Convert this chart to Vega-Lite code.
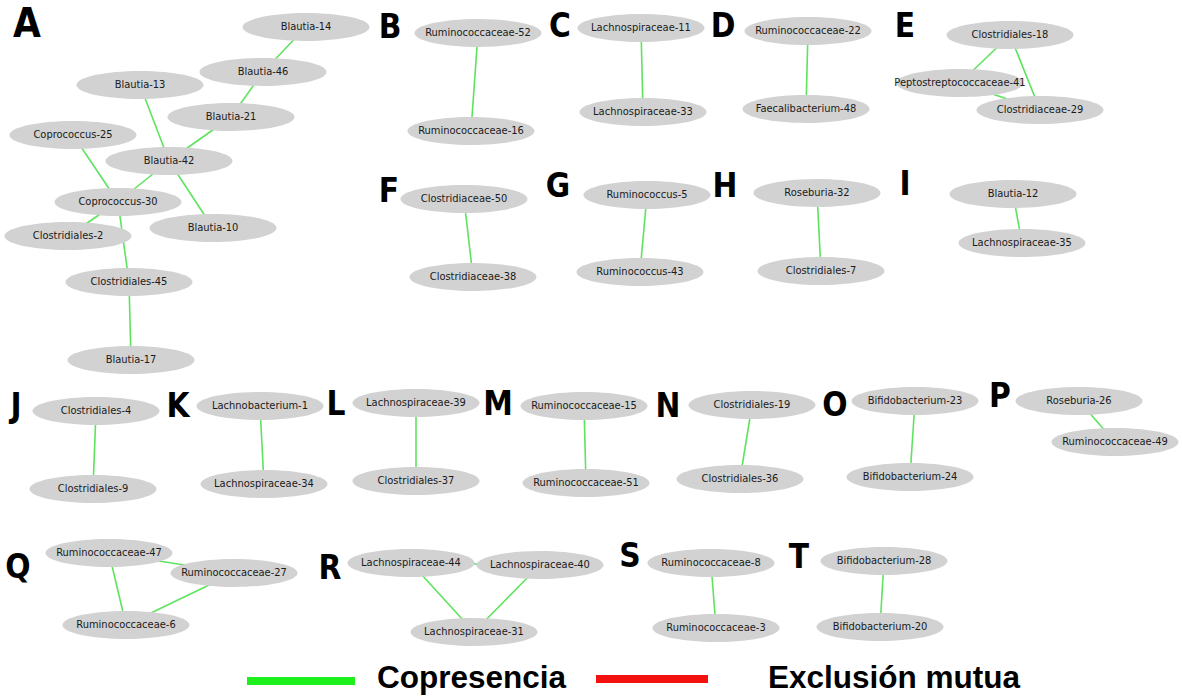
{
  "$schema": "https://vega.github.io/schema/vega-lite/v6.json",
  "width": 1182,
  "height": 696,
  "autosize": {"type": "fit", "contains": "padding"},
  "padding": 0,
  "background": "white",
  "config": {"view": {"stroke": null}},
  "datasets": {
    "nodes": [
      {"name": "Blautia-14", "x": 306, "y": 27},
      {"name": "Blautia-46", "x": 263, "y": 72},
      {"name": "Blautia-13", "x": 140, "y": 85},
      {"name": "Blautia-21", "x": 231, "y": 117},
      {"name": "Coprococcus-25", "x": 73, "y": 135},
      {"name": "Blautia-42", "x": 169, "y": 161},
      {"name": "Coprococcus-30", "x": 118, "y": 202},
      {"name": "Clostridiales-2", "x": 68, "y": 236},
      {"name": "Blautia-10", "x": 213, "y": 228},
      {"name": "Clostridiales-45", "x": 129, "y": 282},
      {"name": "Blautia-17", "x": 131, "y": 360},
      {"name": "Ruminococcaceae-52", "x": 478, "y": 33},
      {"name": "Ruminococcaceae-16", "x": 471, "y": 131},
      {"name": "Lachnospiraceae-11", "x": 641, "y": 28},
      {"name": "Lachnospiraceae-33", "x": 643, "y": 112},
      {"name": "Ruminococcaceae-22", "x": 808, "y": 31},
      {"name": "Faecalibacterium-48", "x": 806, "y": 109},
      {"name": "Clostridiales-18", "x": 1010, "y": 35},
      {"name": "Peptostreptococcaceae-41", "x": 960, "y": 83},
      {"name": "Clostridiaceae-29", "x": 1040, "y": 110},
      {"name": "Clostridiaceae-50", "x": 464, "y": 199},
      {"name": "Clostridiaceae-38", "x": 473, "y": 277},
      {"name": "Ruminococcus-5", "x": 647, "y": 195},
      {"name": "Ruminococcus-43", "x": 640, "y": 272},
      {"name": "Roseburia-32", "x": 817, "y": 193},
      {"name": "Clostridiales-7", "x": 821, "y": 271},
      {"name": "Blautia-12", "x": 1013, "y": 194},
      {"name": "Lachnospiraceae-35", "x": 1022, "y": 243},
      {"name": "Clostridiales-4", "x": 96, "y": 411},
      {"name": "Clostridiales-9", "x": 93, "y": 489},
      {"name": "Lachnobacterium-1", "x": 260, "y": 406},
      {"name": "Lachnospiraceae-34", "x": 264, "y": 484},
      {"name": "Lachnospiraceae-39", "x": 416, "y": 403},
      {"name": "Clostridiales-37", "x": 416, "y": 481},
      {"name": "Ruminococcaceae-15", "x": 584, "y": 406},
      {"name": "Ruminococcaceae-51", "x": 586, "y": 483},
      {"name": "Clostridiales-19", "x": 752, "y": 405},
      {"name": "Clostridiales-36", "x": 740, "y": 479},
      {"name": "Bifidobacterium-23", "x": 915, "y": 401},
      {"name": "Bifidobacterium-24", "x": 910, "y": 477},
      {"name": "Roseburia-26", "x": 1079, "y": 401},
      {"name": "Ruminococcaceae-49", "x": 1115, "y": 442},
      {"name": "Ruminococcaceae-47", "x": 109, "y": 553},
      {"name": "Ruminococcaceae-27", "x": 234, "y": 573},
      {"name": "Ruminococcaceae-6", "x": 126, "y": 625},
      {"name": "Lachnospiraceae-44", "x": 411, "y": 563},
      {"name": "Lachnospiraceae-40", "x": 540, "y": 565},
      {"name": "Lachnospiraceae-31", "x": 474, "y": 632},
      {"name": "Ruminococcaceae-8", "x": 711, "y": 563},
      {"name": "Ruminococcaceae-3", "x": 716, "y": 628},
      {"name": "Bifidobacterium-28", "x": 884, "y": 561},
      {"name": "Bifidobacterium-20", "x": 880, "y": 627}
    ],
    "edges": [
      {"source": "Blautia-14", "target": "Blautia-46"},
      {"source": "Blautia-46", "target": "Blautia-21"},
      {"source": "Blautia-21", "target": "Blautia-42"},
      {"source": "Blautia-13", "target": "Blautia-42"},
      {"source": "Blautia-42", "target": "Coprococcus-30"},
      {"source": "Blautia-42", "target": "Blautia-10"},
      {"source": "Coprococcus-25", "target": "Coprococcus-30"},
      {"source": "Coprococcus-30", "target": "Clostridiales-2"},
      {"source": "Coprococcus-30", "target": "Clostridiales-45"},
      {"source": "Clostridiales-45", "target": "Blautia-17"},
      {"source": "Ruminococcaceae-52", "target": "Ruminococcaceae-16"},
      {"source": "Lachnospiraceae-11", "target": "Lachnospiraceae-33"},
      {"source": "Ruminococcaceae-22", "target": "Faecalibacterium-48"},
      {"source": "Clostridiales-18", "target": "Peptostreptococcaceae-41"},
      {"source": "Clostridiales-18", "target": "Clostridiaceae-29"},
      {"source": "Peptostreptococcaceae-41", "target": "Clostridiaceae-29"},
      {"source": "Clostridiaceae-50", "target": "Clostridiaceae-38"},
      {"source": "Ruminococcus-5", "target": "Ruminococcus-43"},
      {"source": "Roseburia-32", "target": "Clostridiales-7"},
      {"source": "Blautia-12", "target": "Lachnospiraceae-35"},
      {"source": "Clostridiales-4", "target": "Clostridiales-9"},
      {"source": "Lachnobacterium-1", "target": "Lachnospiraceae-34"},
      {"source": "Lachnospiraceae-39", "target": "Clostridiales-37"},
      {"source": "Ruminococcaceae-15", "target": "Ruminococcaceae-51"},
      {"source": "Clostridiales-19", "target": "Clostridiales-36"},
      {"source": "Bifidobacterium-23", "target": "Bifidobacterium-24"},
      {"source": "Roseburia-26", "target": "Ruminococcaceae-49"},
      {"source": "Ruminococcaceae-47", "target": "Ruminococcaceae-27"},
      {"source": "Ruminococcaceae-47", "target": "Ruminococcaceae-6"},
      {"source": "Ruminococcaceae-27", "target": "Ruminococcaceae-6"},
      {"source": "Lachnospiraceae-44", "target": "Lachnospiraceae-40"},
      {"source": "Lachnospiraceae-44", "target": "Lachnospiraceae-31"},
      {"source": "Lachnospiraceae-40", "target": "Lachnospiraceae-31"},
      {"source": "Ruminococcaceae-8", "target": "Ruminococcaceae-3"},
      {"source": "Bifidobacterium-28", "target": "Bifidobacterium-20"}
    ],
    "letters": [
      {"letter": "A", "x": 27, "y": 37, "big": 37},
      {"letter": "B", "x": 390, "y": 38, "big": 29},
      {"letter": "C", "x": 560, "y": 37, "big": 29},
      {"letter": "D", "x": 723, "y": 37, "big": 29},
      {"letter": "E", "x": 905, "y": 37, "big": 29},
      {"letter": "F", "x": 389, "y": 202, "big": 29},
      {"letter": "G", "x": 558, "y": 197, "big": 29},
      {"letter": "H", "x": 725, "y": 197, "big": 29},
      {"letter": "I", "x": 905, "y": 195, "big": 29},
      {"letter": "J", "x": 16, "y": 417, "big": 29},
      {"letter": "K", "x": 178, "y": 417, "big": 29},
      {"letter": "L", "x": 336, "y": 415, "big": 29},
      {"letter": "M", "x": 498, "y": 415, "big": 29},
      {"letter": "N", "x": 668, "y": 417, "big": 29},
      {"letter": "O", "x": 835, "y": 416, "big": 29},
      {"letter": "P", "x": 1000, "y": 407, "big": 29},
      {"letter": "Q", "x": 18, "y": 578, "big": 29},
      {"letter": "R", "x": 330, "y": 579, "big": 29},
      {"letter": "S", "x": 630, "y": 567, "big": 29},
      {"letter": "T", "x": 799, "y": 568, "big": 29}
    ],
    "legend": [
      {"label": "Copresencia", "x1": 247, "x2": 355, "y": 681, "tx": 377, "ty": 688},
      {"label": "Exclusión mutua", "x1": 596, "x2": 708, "y": 679, "tx": 768, "ty": 688}
    ]
  },
  "layer": [
    {
      "data": {"name": "edges"},
      "transform": [
        {"lookup": "source", "from": {"data": {"name": "nodes"}, "key": "name", "fields": ["x", "y"]}, "as": ["sx", "sy"]},
        {"lookup": "target", "from": {"data": {"name": "nodes"}, "key": "name", "fields": ["x", "y"]}, "as": ["tx", "ty"]}
      ],
      "mark": {"type": "rule", "color": "#5fe35f", "strokeWidth": 1.6},
      "encoding": {
        "x": {"field": "sx", "type": "quantitative", "scale": {"domain": [0, 1182], "nice": false, "zero": false}, "axis": null},
        "y": {"field": "sy", "type": "quantitative", "scale": {"domain": [0, 696], "nice": false, "zero": false, "reverse": true}, "axis": null},
        "x2": {"field": "tx"},
        "y2": {"field": "ty"}
      }
    },
    {
      "data": {"name": "nodes"},
      "mark": {"type": "point", "shape": "M-1,0A1,0.22 0 1,0 1,0A1,0.22 0 1,0 -1,0Z", "filled": true, "color": "#d2d2d2", "opacity": 1, "size": 16129, "strokeWidth": 0},
      "encoding": {
        "x": {"field": "x", "type": "quantitative", "scale": {"domain": [0, 1182], "nice": false, "zero": false}, "axis": null},
        "y": {"field": "y", "type": "quantitative", "scale": {"domain": [0, 696], "nice": false, "zero": false, "reverse": true}, "axis": null}
      }
    },
    {
      "data": {"name": "nodes"},
      "mark": {"type": "text", "font": "DejaVu Sans Condensed, Liberation Sans, sans-serif", "fontSize": 11, "color": "#1a1a1a", "align": "center", "baseline": "middle"},
      "encoding": {
        "x": {"field": "x", "type": "quantitative", "scale": {"domain": [0, 1182], "nice": false, "zero": false}, "axis": null},
        "y": {"field": "y", "type": "quantitative", "scale": {"domain": [0, 696], "nice": false, "zero": false, "reverse": true}, "axis": null},
        "text": {"field": "name"}
      }
    },
    {
      "data": {"name": "letters"},
      "mark": {"type": "text", "font": "DejaVu Sans Condensed, Liberation Sans, sans-serif", "fontWeight": "bold", "color": "black", "align": "center", "baseline": "alphabetic"},
      "encoding": {
        "x": {"field": "x", "type": "quantitative", "scale": {"domain": [0, 1182], "nice": false, "zero": false}, "axis": null},
        "y": {"field": "y", "type": "quantitative", "scale": {"domain": [0, 696], "nice": false, "zero": false, "reverse": true}, "axis": null},
        "text": {"field": "letter"},
        "size": {"field": "big", "type": "quantitative", "scale": {"type": "identity"}, "legend": null}
      }
    },
    {
      "data": {"name": "legend"},
      "mark": {"type": "rule", "strokeWidth": 8},
      "encoding": {
        "x": {"field": "x1", "type": "quantitative", "scale": {"domain": [0, 1182], "nice": false, "zero": false}, "axis": null},
        "x2": {"field": "x2"},
        "y": {"field": "y", "type": "quantitative", "scale": {"domain": [0, 696], "nice": false, "zero": false, "reverse": true}, "axis": null},
        "color": {"field": "label", "type": "nominal", "scale": {"domain": ["Copresencia", "Exclusión mutua"], "range": ["#1ef01e", "#f51010"]}, "legend": null}
      }
    },
    {
      "data": {"name": "legend"},
      "mark": {"type": "text", "font": "Liberation Sans", "fontWeight": "bold", "fontSize": 31.5, "color": "black", "align": "left", "baseline": "alphabetic"},
      "encoding": {
        "x": {"field": "tx", "type": "quantitative", "scale": {"domain": [0, 1182], "nice": false, "zero": false}, "axis": null},
        "y": {"field": "ty", "type": "quantitative", "scale": {"domain": [0, 696], "nice": false, "zero": false, "reverse": true}, "axis": null},
        "text": {"field": "label"}
      }
    }
  ]
}
